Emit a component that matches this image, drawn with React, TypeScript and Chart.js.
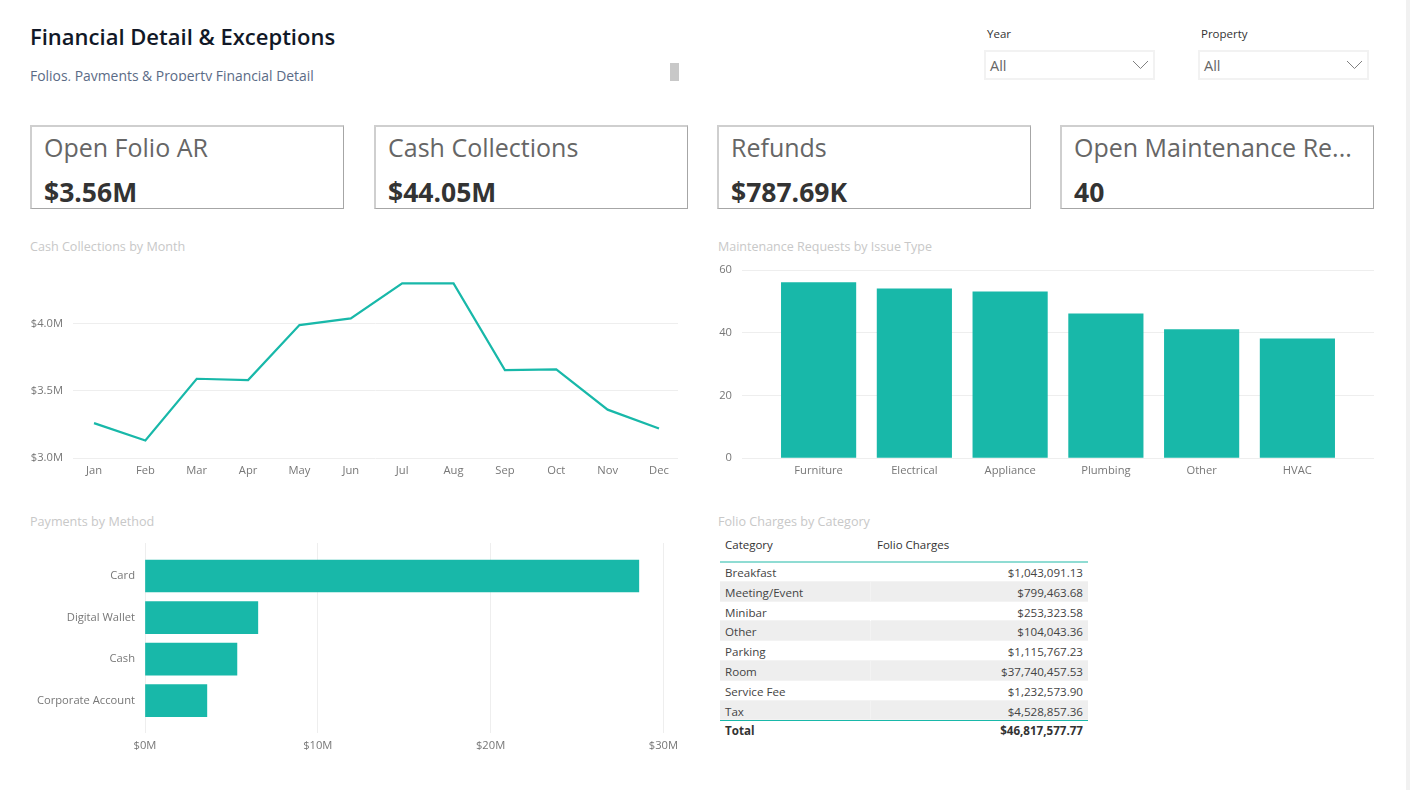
import { useEffect, useRef } from 'react';
import { Chart, registerables } from 'chart.js';

Chart.register(...registerables);

const FONT = '"Open Sans", "Noto Sans", sans-serif';
const TEAL = '#18b8a9';
const GRID = '#eeeeee';
const TICK = '#777777';

const months = ['Jan', 'Feb', 'Mar', 'Apr', 'May', 'Jun', 'Jul', 'Aug', 'Sep', 'Oct', 'Nov', 'Dec'];
const collections = [3.26, 3.13, 3.59, 3.58, 3.99, 4.04, 4.3, 4.3, 3.655, 3.66, 3.36, 3.22];

const issueTypes = ['Furniture', 'Electrical', 'Appliance', 'Plumbing', 'Other', 'HVAC'];
const issueCounts = [56, 54, 53, 46, 41, 38];

const methods = ['Card', 'Digital Wallet', 'Cash', 'Corporate Account'];
const methodTotals = [28.58, 6.53, 5.32, 3.58];

const kpiLabels = ['Open Folio AR', 'Cash Collections', 'Refunds', 'Open Maintenance Re...'];
const kpiValues = ['$3.56M', '$44.05M', '$787.69K', '40'];

const chargeCategories = ['Breakfast', 'Meeting/Event', 'Minibar', 'Other', 'Parking', 'Room', 'Service Fee', 'Tax'];
const chargeValues = ['$1,043,091.13', '$799,463.68', '$253,323.58', '$104,043.36', '$1,115,767.23', '$37,740,457.53', '$1,232,573.90', '$4,528,857.36'];

const tickFont = { family: FONT, size: 11.2 };

// the categories sit inset from the gridline ends, so the index axes are linear
const indexTicks = (scale: any) => {
  const n = Math.round(scale.max);
  scale.ticks = [];
  for (let i = 0; i <= n; i++) if (i >= scale.min && i <= scale.max) scale.ticks.push({ value: i });
};

function useChart(build: () => any) {
  const ref = useRef<HTMLCanvasElement>(null);
  useEffect(() => {
    if (!ref.current) return;
    const chart = new Chart(ref.current, build());
    return () => chart.destroy();
  }, []);
  return ref;
}

function LineCard() {
  const ref = useChart(() => ({
    type: 'line',
    data: {
      datasets: [{
        data: collections.map((y, x) => ({ x, y })),
        borderColor: TEAL,
        borderWidth: 2.2,
        pointRadius: 0,
        tension: 0,
      }],
    },
    options: {
      responsive: false,
      animation: false,
      layout: { padding: { top: 17, right: 7 } },
      plugins: { legend: { display: false }, tooltip: { enabled: false } },
      scales: {
        x: {
          type: 'linear',
          min: -0.409,
          max: 11.37,
          afterBuildTicks: indexTicks,
          afterFit: (s: any) => { s.height = 27; },
          grid: { display: false, drawTicks: false },
          border: { display: false },
          ticks: { color: TICK, font: tickFont, padding: 6, maxRotation: 0, autoSkip: false, callback: (v: any) => months[v] },
        },
        y: {
          min: 3,
          max: 4.4,
          afterFit: (s: any) => { s.width = 53; },
          grid: { color: GRID, drawTicks: false },
          border: { display: false },
          ticks: { stepSize: 0.5, includeBounds: false, color: TICK, font: tickFont, padding: 10, callback: (v: any) => `$${Number(v).toFixed(1)}M` },
        },
      },
    },
  }));
  return <canvas ref={ref} width={665} height={232} style={{ position: 'absolute', left: 20, top: 253 }} />;
}

function IssueCard() {
  const ref = useChart(() => ({
    type: 'bar',
    data: {
      datasets: [{
        data: issueCounts.map((y, x) => ({ x, y })),
        backgroundColor: TEAL,
        barThickness: 74.5,
      }],
    },
    options: {
      responsive: false,
      animation: false,
      layout: { padding: { top: 17, right: 6 } },
      plugins: { legend: { display: false }, tooltip: { enabled: false } },
      scales: {
        x: {
          type: 'linear',
          offset: false,
          min: -0.8,
          max: 5.8,
          afterBuildTicks: indexTicks,
          afterFit: (s: any) => { s.height = 27; },
          grid: { display: false, drawTicks: false, offset: false },
          border: { display: false },
          ticks: { color: TICK, font: tickFont, padding: 6, maxRotation: 0, autoSkip: false, callback: (v: any) => issueTypes[v] },
        },
        y: {
          min: 0,
          max: 60,
          afterFit: (s: any) => { s.width = 32; },
          grid: { color: GRID, drawTicks: false },
          border: { display: false },
          ticks: { stepSize: 20, color: TICK, font: tickFont, padding: 10 },
        },
      },
    },
  }));
  return <canvas ref={ref} width={670} height={232} style={{ position: 'absolute', left: 710, top: 253 }} />;
}

function MethodCard() {
  const ref = useChart(() => ({
    type: 'bar',
    data: {
      datasets: [{
        data: methodTotals.map((x, y) => ({ x, y })),
        backgroundColor: TEAL,
        barThickness: 32,
      }],
    },
    options: {
      indexAxis: 'y',
      responsive: false,
      animation: false,
      layout: { padding: { top: 17, right: 20 } },
      plugins: { legend: { display: false }, tooltip: { enabled: false } },
      scales: {
        x: {
          type: 'linear',
          min: 0,
          max: 30,
          afterFit: (s: any) => { s.height = 27; },
          grid: { color: GRID, drawTicks: false },
          border: { display: false },
          ticks: { stepSize: 10, color: TICK, font: tickFont, padding: 6, maxRotation: 0, callback: (v: any) => `$${v}M` },
        },
        y: {
          type: 'linear',
          offset: false,
          reverse: true,
          min: -0.795,
          max: 3.78,
          afterBuildTicks: indexTicks,
          afterFit: (s: any) => { s.width = 125; },
          grid: { display: false, drawTicks: false, offset: false },
          border: { display: false },
          ticks: { color: TICK, font: tickFont, padding: 10, autoSkip: false, callback: (v: any) => methods[v] },
        },
      },
    },
  }));
  return <canvas ref={ref} width={664} height={234} style={{ position: 'absolute', left: 20, top: 526 }} />;
}

function Text({ x, y, size, color, weight, children }: any) {
  return (
    <div style={{ position: 'absolute', left: x, top: y - 15, height: 30, lineHeight: '30px', fontSize: size, color, fontWeight: weight ?? 400, whiteSpace: 'nowrap' }}>
      {children}
    </div>
  );
}

function Kpi({ x, label, value }: any) {
  return (
    <div style={{ position: 'absolute', left: x, top: 125, width: 314, height: 84, boxSizing: 'border-box', borderStyle: 'solid', borderWidth: '2px 1px 1px 2px', borderColor: '#cfcfcf #a6a6a6 #a6a6a6 #cfcfcf' }}>
      <Text x={12} y={20} size={25} color="#666666">{label}</Text>
      <Text x={12} y={65} size={26.5} color="#333333" weight={700}>{value}</Text>
    </div>
  );
}

function Slicer({ x, label }: any) {
  return (
    <>
      <Text x={x + 3} y={34} size={11.5} color="#333333">{label}</Text>
      <div style={{ position: 'absolute', left: x, top: 50, width: 171, height: 30, boxSizing: 'border-box', border: '2px solid #f2f2f2' }} />
      <Text x={x + 6} y={66} size={14.5} color="#666666">All</Text>
      <svg width={18} height={10} style={{ position: 'absolute', left: x + 148, top: 60 }}>
        <path d="M1 1 L8.5 8.5 L16 1" fill="none" stroke="#808080" strokeWidth={1} />
      </svg>
    </>
  );
}

function ChargesTable() {
  return (
    <div style={{ position: 'absolute', left: 720, top: 0, width: 368, fontSize: 11.6, color: '#444444' }}>
      <Text x={5} y={545} size={11.5} color="#333333">Category</Text>
      <Text x={157} y={545} size={11.5} color="#333333">Folio Charges</Text>
      {chargeCategories.map((c, i) => (
        <div key={c} style={{ position: 'absolute', left: 0, top: 562 + i * 19.8, width: 368, height: 19.8, lineHeight: '22px', background: i % 2 ? '#eeeeee' : '#ffffff', borderBottom: '1px solid #f3f3f3', boxSizing: 'border-box' }}>
          <span style={{ position: 'absolute', left: 5 }}>{c}</span>
          <span style={{ position: 'absolute', right: 5 }}>{chargeValues[i]}</span>
          <span style={{ position: 'absolute', left: 150, top: 0, width: 1, height: 19, background: i % 2 ? '#f3f3f3' : '#ffffff' }} />
        </div>
      ))}
      <div style={{ position: 'absolute', left: 0, top: 561, width: 368, height: 2, background: '#8fdcd3' }} />
      <div style={{ position: 'absolute', left: 0, top: 720, width: 368, height: 1, background: TEAL }} />
      <Text x={5} y={731} size={11.6} color="#333333" weight={700}>Total</Text>
      <div style={{ position: 'absolute', right: 5, top: 716, height: 30, lineHeight: '30px', fontWeight: 700, color: '#333333' }}>$46,817,577.77</div>
    </div>
  );
}

export default function App() {
  const kpiLefts = [30, 374, 717, 1060];
  return (
    <div style={{ position: 'absolute', left: 0, top: 0, width: 1410, height: 790, overflow: 'hidden', background: '#ffffff', fontFamily: FONT }}>
      <Text x={30} y={36} size={22} color="#111827" weight={600}>Financial Detail &amp; Exceptions</Text>
      <div style={{ position: 'absolute', left: 30, top: 64, height: 17, overflow: 'hidden', lineHeight: '23px', fontSize: 13.9, color: '#5b6b86', whiteSpace: 'nowrap' }}>
        Folios, Payments &amp; Property Financial Detail
      </div>
      <div style={{ position: 'absolute', left: 670, top: 63, width: 9, height: 18, background: '#c8c8c8' }} />
      <Slicer x={984} label="Year" />
      <Slicer x={1198} label="Property" />
      {kpiLabels.map((l, i) => <Kpi key={l} x={kpiLefts[i]} label={l} value={kpiValues[i]} />)}
      <Text x={30} y={247} size={12.6} color="#c8c8c8">Cash Collections by Month</Text>
      <Text x={718} y={247} size={12.5} color="#c8c8c8">Maintenance Requests by Issue Type</Text>
      <Text x={30} y={522} size={12.6} color="#c8c8c8">Payments by Method</Text>
      <Text x={718} y={522} size={12.6} color="#c8c8c8">Folio Charges by Category</Text>
      <LineCard />
      <IssueCard />
      <MethodCard />
      <ChargesTable />
      <div style={{ position: 'absolute', left: 1406, top: 0, width: 4, height: 790, background: '#f1f1f1' }} />
    </div>
  );
}
